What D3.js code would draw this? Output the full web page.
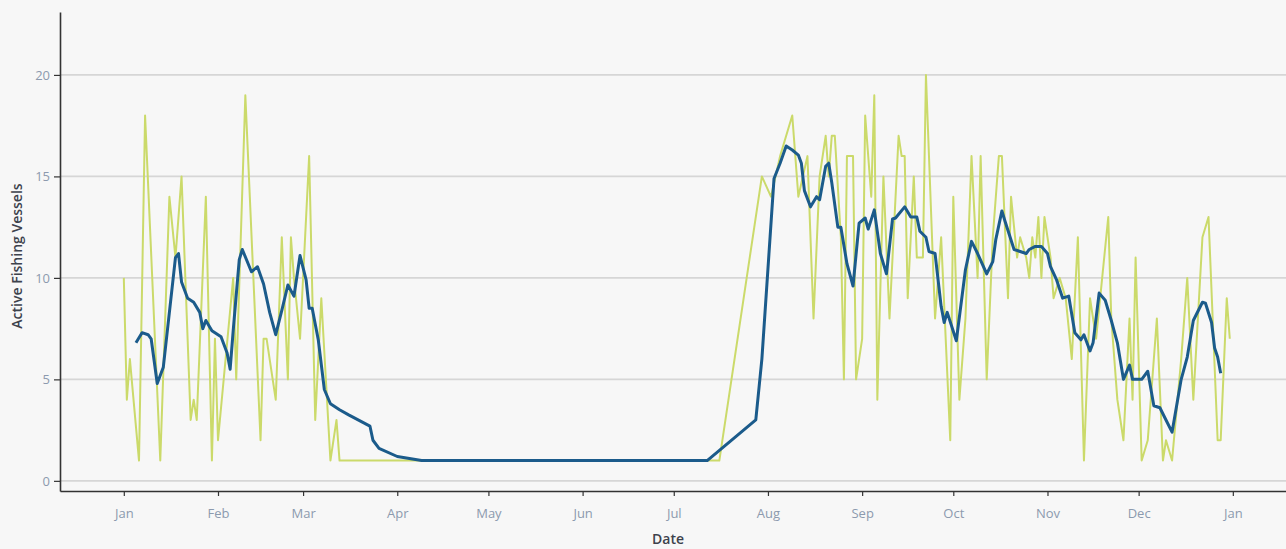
<!DOCTYPE html>
<html>
<head>
<meta charset="utf-8">
<script src="https://cdn.jsdelivr.net/npm/d3@7"></script>
<style>
  body { margin: 0; background: #f7f7f7; }
  svg { display: block; font-family: "Open Sans", sans-serif; }
</style>
</head>
<body>
<script>
// day of year (0 = 1 Jan 2021) and vessel counts
var dailyDay = [0, 1, 2, 5, 7, 12, 15, 17, 19, 22, 23, 24, 27, 29, 30, 31, 36, 37, 40, 45,
    46, 47, 50, 52, 54, 55, 56, 58, 61, 63, 65, 68, 70, 71,
    196, 210, 213, 216, 218, 220, 222, 225, 227, 229, 231, 232, 233, 234, 236, 237, 238,
    240, 241, 243, 244, 246, 247, 248, 250, 252, 255, 256, 257, 258, 260, 261, 263, 264,
    267, 269, 272, 273, 275, 277, 279, 281, 282, 284, 286, 288, 289, 291, 292, 294, 295,
    297, 298, 299, 300, 301, 302, 303, 305, 306, 308, 310, 312, 314, 316, 318, 320, 322,
    324, 325, 327, 329, 331, 332, 333, 335, 337, 340, 342, 343, 345, 348, 350, 352, 355,
    357, 360, 361, 363, 364];
var dailyCount = [10, 4, 6, 1, 18, 1, 14, 11, 15, 3, 4, 3, 14, 1, 7, 2, 10, 5, 19, 2,
    7, 7, 4, 12, 5, 12, 10, 7, 16, 3, 9, 1, 3, 1,
    1, 15, 14, 16, 17, 18, 14, 16, 8, 15, 17, 15, 17, 17, 12, 5, 16,
    16, 5, 7, 18, 14, 19, 4, 15, 8, 17, 16, 16, 9, 15, 11, 11, 20,
    8, 12, 2, 14, 4, 8, 16, 10, 16, 5, 12, 16, 16, 9, 14, 11, 12,
    11, 10, 12, 11, 13, 10, 13, 11, 9, 10, 9, 6, 12, 1, 9, 7, 10,
    13, 8, 4, 2, 8, 4, 11, 1, 2, 8, 1, 2, 1, 6, 10, 4, 12,
    13, 2, 2, 9, 7];

// rolling average
var avgDay = [4, 6, 8, 9, 11, 13, 15, 17, 18, 19, 21, 23, 25, 26, 27, 29, 32, 34, 35, 36,
    38, 39, 42, 44, 46, 48, 50, 52, 54, 56, 58, 60, 61, 62, 64, 66, 68, 71, 74, 81,
    82, 84, 90, 98, 192, 208, 210, 214, 216, 218, 220, 222, 223, 224, 226, 228, 229, 231,
    232, 233, 235, 236, 238, 240, 242, 244, 245, 247, 249, 251, 253, 254, 257, 259, 261,
    262, 264, 265, 267, 269, 270, 271, 274, 277, 279, 281, 284, 286, 287, 289, 290, 293,
    295, 297, 298, 300, 302, 304, 305, 307, 309, 311, 313, 315, 316, 318, 319, 321, 323,
    325, 327, 329, 331, 332, 335, 337, 339, 341, 343, 345, 348, 350, 352, 355, 356, 358,
    359, 360, 361];
var avgCount = [6.8, 7.3, 7.2, 7.0, 4.8, 5.6, 8.3, 11.0, 11.2, 9.8, 9.0, 8.8, 8.3, 7.5, 7.9, 7.4, 7.1, 6.3, 5.5, 7.4,
    10.9, 11.4, 10.3, 10.55, 9.7, 8.3, 7.2, 8.4, 9.65, 9.1, 11.1, 9.9, 8.5, 8.5, 6.95, 4.5, 3.8, 3.5, 3.25, 2.7,
    2.0, 1.6, 1.2, 1.0, 1.0, 3.0, 6.0, 14.9, 15.65, 16.5, 16.3, 16.05, 15.65, 14.3, 13.5, 14.0, 13.85, 15.5,
    15.65, 14.7, 12.5, 12.5, 10.7, 9.6, 12.7, 12.95, 12.4, 13.35, 11.2, 10.2, 12.9, 12.95, 13.5, 13.0, 13.0,
    12.3, 12.0, 11.3, 11.2, 8.6, 7.8, 8.3, 6.9, 10.4, 11.8, 11.2, 10.2, 10.8, 11.9, 13.3, 12.8, 11.4,
    11.3, 11.2, 11.4, 11.55, 11.55, 11.2, 10.55, 9.9, 9.0, 9.1, 7.3, 6.95, 7.2, 6.4, 6.8, 9.25, 8.9,
    7.9, 6.8, 5.0, 5.7, 5.0, 5.0, 5.4, 3.7, 3.6, 3.0, 2.4, 5.0, 6.1, 7.9, 8.8, 8.75, 7.8,
    6.55, 6.1, 5.3];

var yTicks = [0, 5, 10, 15, 20];

var width = 1286, height = 549;
var start = Date.UTC(2021, 0, 1);

function toDate(d) {
    return d3.utcDay.offset(new Date(start), d);
}

var daily = dailyDay.map(function(d, i) { return {date: toDate(d), v: dailyCount[i]}; });
var avg = avgDay.map(function(d, i) { return {date: toDate(d), v: avgCount[i]}; });

var svg = d3.select("body")
    .append("svg")
    .attr("width", width)
    .attr("height", height);

var x = d3.scaleUtc()
    .domain([new Date(Date.UTC(2020, 11, 11)), new Date(Date.UTC(2022, 0, 18, 12))])
    .range([60, 1286]);

var y = d3.scaleLinear()
    .domain([-0.5, 23.1])
    .range([491, 12]);

// gridlines
svg.append("g")
    .selectAll("line")
    .data(yTicks)
    .enter().append("line")
    .attr("x1", 60)
    .attr("x2", width)
    .attr("y1", function(d) { return y(d); })
    .attr("y2", function(d) { return y(d); })
    .attr("stroke", "#d6d6d6")
    .attr("stroke-width", 1.6);

var line = d3.line()
    .x(function(d) { return x(d.date); })
    .y(function(d) { return y(d.v); });

svg.append("path")
    .datum(daily)
    .attr("d", line)
    .attr("fill", "none")
    .attr("stroke", "#cbda6a")
    .attr("stroke-width", 2)
    .attr("stroke-linejoin", "round");

svg.append("path")
    .datum(avg)
    .attr("d", line)
    .attr("fill", "none")
    .attr("stroke", "#1b5b8b")
    .attr("stroke-width", 3)
    .attr("stroke-linejoin", "round");

// axes
var xAxis = d3.axisBottom(x)
    .ticks(d3.utcMonth.every(1))
    .tickFormat(d3.utcFormat("%b"))
    .tickSize(5)
    .tickSizeOuter(0);

var gx = svg.append("g")
    .attr("transform", "translate(0,491)")
    .call(xAxis);

var yAxis = d3.axisLeft(y)
    .tickValues(yTicks)
    .tickSize(6)
    .tickSizeOuter(0);

var gy = svg.append("g")
    .attr("transform", "translate(60,0)")
    .call(yAxis);

[gx, gy].forEach(function(g) {
    g.select(".domain").attr("stroke", "#333").attr("stroke-width", 1.6);
    g.selectAll(".tick line").attr("stroke", "#333").attr("stroke-width", 1.2);
    g.selectAll(".tick text")
        .attr("fill", "#8c9aae")
        .style("font-size", "13px")
        .style("font-family", "'Open Sans', sans-serif");
});
gx.selectAll(".tick text").attr("dy", "1.45em");
gy.selectAll(".tick text").attr("x", -10);

svg.append("text")
    .attr("x", 668)
    .attr("y", 544)
    .attr("text-anchor", "middle")
    .attr("fill", "#3d424c")
    .style("font-size", "14px")
    .style("font-weight", "600")
    .text("Date");

svg.append("text")
    .attr("transform", "translate(22,256) rotate(-90)")
    .attr("text-anchor", "middle")
    .attr("fill", "#3d424c")
    .style("font-size", "14px")
    .style("font-weight", "600")
    .text("Active Fishing Vessels");
</script>
</body>
</html>
